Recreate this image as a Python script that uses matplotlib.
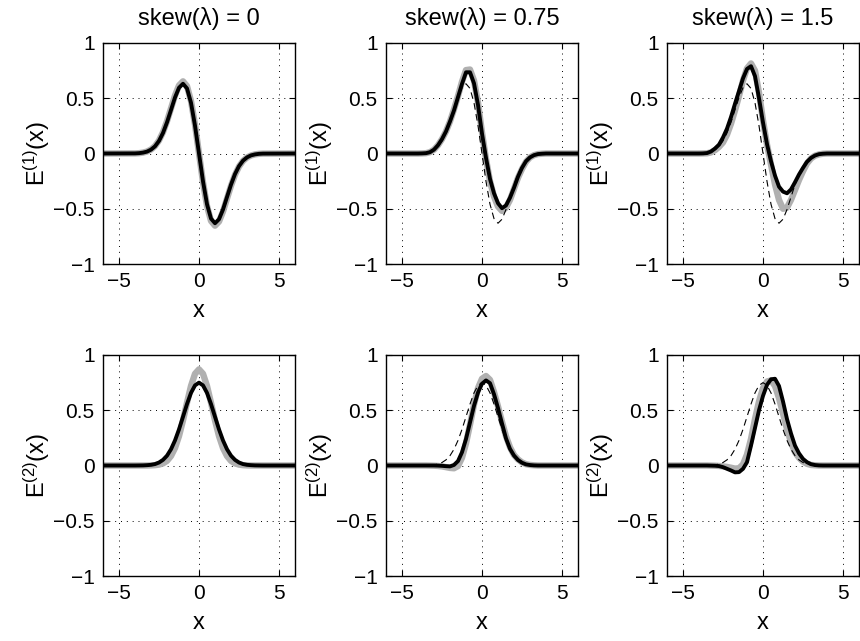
import numpy as np
import matplotlib
matplotlib.use('Agg')
import matplotlib.pyplot as plt

plt.rcParams['font.family'] = ['Liberation Sans', 'DejaVu Sans']
plt.rcParams['mathtext.fontset'] = 'custom'
plt.rcParams['mathtext.rm'] = 'Liberation Sans'
plt.rcParams['mathtext.it'] = 'Liberation Sans'

# sample positions
x = [-6, -4, -3.75, -3.5, -3.25, -3.0, -2.75, -2.5, -2.25, -2.0, -1.75, -1.5,
     -1.25, -1.0, -0.75, -0.5, -0.25, 0, 0.25, 0.5, 0.75, 1.0, 1.25, 1.5,
     1.75, 2.0, 2.25, 2.5, 2.75, 3.0, 3.25, 3.5, 3.75, 4.0, 6]

skews = ['0', '0.75', '1.5']

# E(1), black = estimate, gray = reference
e1_black_0 = [0, 0.001, 0.003, 0.008, 0.017, 0.035, 0.065, 0.114, 0.186, 0.282, 0.394, 0.507,
              0.595, 0.631, 0.589, 0.459, 0.252, 0, -0.252, -0.459, -0.589, -0.631, -0.595, -0.507,
              -0.394, -0.282, -0.186, -0.114, -0.065, -0.035, -0.017, -0.008, -0.003, -0.001, 0]
e1_gray_0 = [0, 0.001, 0.003, 0.008, 0.018, 0.036, 0.067, 0.118, 0.193, 0.292, 0.408, 0.525,
             0.616, 0.653, 0.61, 0.475, 0.261, 0, -0.261, -0.475, -0.61, -0.653, -0.616, -0.525,
             -0.408, -0.292, -0.193, -0.118, -0.067, -0.036, -0.018, -0.008, -0.003, -0.001, 0]
e1_black_075 = [0, 0, 0.001, 0.003, 0.012, 0.035, 0.075, 0.13, 0.20, 0.29, 0.39, 0.51,
                0.63, 0.735, 0.735, 0.635, 0.44, 0.18, -0.04, -0.23, -0.36, -0.45, -0.495, -0.47,
                -0.40, -0.31, -0.21, -0.13, -0.07, -0.035, -0.015, -0.005, -0.002, 0, 0]
e1_gray_075 = [0, 0, 0.001, 0.003, 0.012, 0.035, 0.075, 0.13, 0.20, 0.29, 0.40, 0.52,
               0.65, 0.755, 0.76, 0.66, 0.46, 0.19, -0.05, -0.25, -0.39, -0.48, -0.52, -0.49,
               -0.42, -0.32, -0.22, -0.14, -0.075, -0.035, -0.015, -0.005, -0.002, 0, 0]
e1_black_15 = [0, 0, 0.001, 0.004, 0.018, 0.045, 0.08, 0.145, 0.225, 0.33, 0.45, 0.565,
               0.68, 0.765, 0.79, 0.70, 0.50, 0.28, 0.085, -0.07, -0.20, -0.30, -0.345, -0.36,
               -0.325, -0.26, -0.19, -0.13, -0.075, -0.04, -0.018, -0.006, -0.002, 0, 0]
e1_gray_15 = [0, 0, 0.001, 0.002, 0.01, 0.03, 0.06, 0.10, 0.17, 0.27, 0.39, 0.52,
              0.66, 0.77, 0.815, 0.75, 0.55, 0.30, 0.08, -0.10, -0.28, -0.42, -0.50, -0.49,
              -0.42, -0.33, -0.24, -0.16, -0.09, -0.045, -0.02, -0.008, -0.002, 0, 0]

# E(2)
e2_black_0 = [0, 0, 0.0005, 0.001, 0.003, 0.006, 0.013, 0.027, 0.051, 0.089, 0.147, 0.227,
              0.327, 0.441, 0.556, 0.657, 0.725, 0.75, 0.725, 0.657, 0.556, 0.441, 0.327, 0.227,
              0.147, 0.089, 0.051, 0.027, 0.013, 0.006, 0.003, 0.001, 0.0005, 0, 0]
e2_gray_0 = [0, 0, 0, 0, 0, 0.001, 0.003, 0.008, 0.019, 0.042, 0.086, 0.158,
             0.266, 0.408, 0.568, 0.72, 0.83, 0.87, 0.83, 0.72, 0.568, 0.408, 0.266, 0.158,
             0.086, 0.042, 0.019, 0.008, 0.003, 0.001, 0, 0, 0, 0, 0]
e2_black_075 = [0, 0, 0, 0, 0, 0, -0.001, -0.003, -0.006, -0.008, 0.005, 0.04,
                0.12, 0.24, 0.39, 0.54, 0.66, 0.74, 0.77, 0.745, 0.645, 0.52, 0.38, 0.245,
                0.15, 0.09, 0.05, 0.025, 0.01, 0.004, 0.001, 0, 0, 0, 0]
e2_gray_075 = [0, 0, 0, 0, -0.001, -0.002, -0.004, -0.008, -0.015, -0.022, -0.025, -0.005,
               0.07, 0.2, 0.37, 0.55, 0.70, 0.785, 0.81, 0.775, 0.665, 0.535, 0.395, 0.265,
               0.165, 0.095, 0.055, 0.028, 0.012, 0.005, 0.002, 0, 0, 0, 0]
e2_black_15 = [0, 0, 0, 0, -0.001, -0.002, -0.005, -0.015, -0.03, -0.045, -0.062, -0.06,
               -0.03, 0.03, 0.18, 0.34, 0.50, 0.63, 0.73, 0.78, 0.785, 0.72, 0.58, 0.42,
               0.29, 0.18, 0.11, 0.06, 0.03, 0.012, 0.004, 0.001, 0, 0, 0]
e2_gray_15 = [0, 0, 0, 0, -0.001, -0.002, -0.004, -0.008, -0.013, -0.02, -0.028, -0.025,
              0.01, 0.10, 0.24, 0.42, 0.58, 0.70, 0.76, 0.77, 0.72, 0.61, 0.47, 0.33,
              0.21, 0.12, 0.07, 0.035, 0.015, 0.005, 0.002, 0, 0, 0, 0]

top_black = [e1_black_0, e1_black_075, e1_black_15]
top_gray = [e1_gray_0, e1_gray_075, e1_gray_15]
bot_black = [e2_black_0, e2_black_075, e2_black_15]
bot_gray = [e2_gray_0, e2_gray_075, e2_gray_15]

W, H = 860, 641
fig = plt.figure(figsize=(W / 100, H / 100), dpi=100)

lefts = [103, 386, 667]
tops = [43, 355]
aw, ah = 192, 221

yticks = [-1, -0.5, 0, 0.5, 1]
ylabs = ['\u22121', '\u22120.5', '0', '0.5', '1']


def setup(ax, ylabel):
    ax.set_xlim(-6, 6)
    ax.set_ylim(-1, 1)
    ax.set_xticks([-5, 0, 5])
    ax.set_xticklabels(['\u22125', '0', '5'])
    ax.set_yticks(yticks)
    ax.set_yticklabels(ylabs)
    ax.grid(True, color='k', linestyle=(0, (1, 5)), linewidth=0.7)
    ax.tick_params(direction='in', top=True, right=True, length=4, width=0.8,
                   labelsize=15, pad=6)
    for s in ax.spines.values():
        s.set_linewidth(1.0)
    ax.set_xlabel('x', fontsize=17, labelpad=6)
    ax.set_ylabel(ylabel, fontsize=17, labelpad=1)


for row in range(2):
    for col in range(3):
        l = lefts[col]
        t = tops[row]
        ax = fig.add_axes([l / W, (H - t - ah) / H, aw / W, ah / H])
        if row == 0:
            gray, black, base = top_gray[col], top_black[col], e1_black_0
            ylabel = 'E$^{(1)}$(x)'
        else:
            gray, black, base = bot_gray[col], bot_black[col], e2_black_0
            ylabel = 'E$^{(2)}$(x)'
        ax.plot(x, gray, color='#b0b0b0', linewidth=4.6, solid_capstyle='round')
        if col > 0:
            ax.plot(x, base, color='k', linewidth=0.8, linestyle=(0, (6, 4)))
        ax.plot(x, black, color='k', linewidth=2.8, solid_capstyle='round')
        setup(ax, ylabel)
        if row == 0:
            ax.set_title('skew(\u03bb) = ' + skews[col], fontsize=17, pad=13)

fig.savefig('out.png', dpi=100)
